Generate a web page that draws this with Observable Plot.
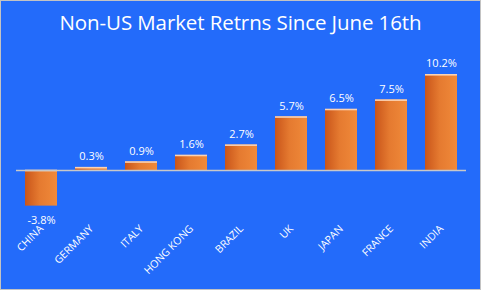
<!DOCTYPE html>
<html>
<head>
<meta charset="utf-8">
<script src="https://cdn.jsdelivr.net/npm/d3@7"></script>
<script src="https://cdn.jsdelivr.net/npm/@observablehq/plot@0.6"></script>
<style>
  html, body { margin: 0; padding: 0; background: #fff; }
  #wrap { position: relative; width: 481px; height: 290px; box-sizing: border-box; border: 1px solid #c3c3c3; background: #236bfa; overflow: hidden; }
  #title { position: absolute; left: 0; top: 7px; width: 479px; text-align: center; color: #fff; font-family: "Open Sans", sans-serif; font-size: 20.5px; letter-spacing: -0.1px; }
  #chart { position: absolute; left: 0; top: 0; }
</style>
</head>
<body>
<div id="wrap">
  <div id="title">Non-US Market Retrns Since June 16th</div>
  <div id="chart"></div>
</div>
<script>
const countries = ["CHINA", "GERMANY", "ITALY", "HONG KONG", "BRAZIL", "UK", "JAPAN", "FRANCE", "INDIA"];
const returns = [-3.8, 0.3, 0.9, 1.6, 2.7, 5.7, 6.5, 7.5, 10.2];
const labels = ["-3.8%", "0.3%", "0.9%", "1.6%", "2.7%", "5.7%", "6.5%", "7.5%", "10.2%"];

const data = countries.map((c, i) => ({country: c, value: returns[i], label: labels[i]}));

const chart = Plot.plot({
  width: 479,
  height: 288,
  marginLeft: 15,
  marginRight: 14,
  marginTop: 56.4,
  marginBottom: 81.5,
  style: {background: "transparent", color: "#fff", fontFamily: "'Open Sans', sans-serif"},
  x: {domain: countries, paddingInner: 0.36, paddingOuter: 0.18, label: null},
  y: {domain: [-4, 12], axis: null},
  marks: [
    Plot.barY(data, {x: "country", y: "value", fill: "url(#barGrad)"}),
    Plot.tickY(data, {x: "country", y: d => Math.max(d.value, 0), stroke: "#fbd3b4", strokeWidth: 1.6}),
    Plot.ruleY([0], {stroke: "#c8c8c8", strokeWidth: 1.5}),
    Plot.text(data.filter(d => d.value >= 0), {x: "country", y: "value", text: "label", dy: -11, fill: "#fff", fontSize: 11}),
    Plot.text(data.filter(d => d.value < 0), {x: "country", y: "value", text: "label", dy: 14, fill: "#fff", fontSize: 11}),
    Plot.axisX({tickSize: 0, tickRotate: -45, tickPadding: 19, fontSize: 10.5, fill: "#fff", label: null})
  ]
});

const svg = d3.select(chart);
const defs = svg.insert("defs", ":first-child");
const g = defs.append("linearGradient").attr("id", "barGrad").attr("x1", "0").attr("x2", "1").attr("y1", "0").attr("y2", "0");
g.append("stop").attr("offset", "0%").attr("stop-color", "#c9551a");
g.append("stop").attr("offset", "45%").attr("stop-color", "#e57a30");
g.append("stop").attr("offset", "100%").attr("stop-color", "#f08a3a");

document.getElementById("chart").appendChild(chart);
</script>
</body>
</html>
